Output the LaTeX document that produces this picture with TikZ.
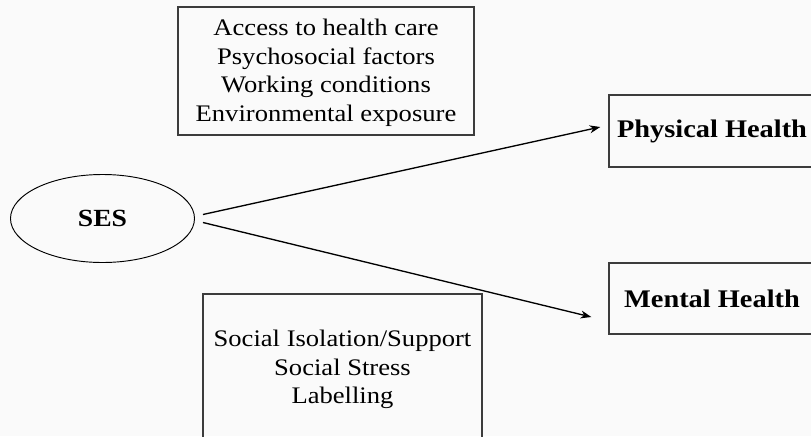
\documentclass[tikz,border=0pt]{standalone}
\usepackage{fontspec}
\setmainfont{Liberation Serif}[FakeStretch=1.12]
\usetikzlibrary{shapes.geometric,arrows.meta}
\definecolor{bgc}{RGB}{250,250,250}
\definecolor{boxline}{RGB}{60,60,60}
\tikzset{
  factorbox/.style={draw=boxline,line width=1.1pt,rectangle,inner sep=0pt},
  factortext/.style={inner sep=0pt,align=center,font=\fontsize{17.8}{21.4}\selectfont},
  outbox/.style={draw=boxline,line width=1.1pt,rectangle,inner sep=0pt,align=center,
    font=\fontsize{19}{22}\selectfont\bfseries},
  sesnode/.style={draw=black,line width=0.7pt,ellipse,inner sep=0pt,
    font=\fontsize{18.5}{22}\selectfont\bfseries},
  arr/.style={draw=black,line width=1pt,-{Stealth[length=8pt,width=6pt]}}
}
\begin{document}
\begin{tikzpicture}[x=0.75pt,y=-0.75pt]
\useasboundingbox (0,0) rectangle (811,436);
\clip (0,0) rectangle (811,436);
\fill[bgc] (0,0) rectangle (811,436);
\node[sesnode,minimum width=138pt,minimum height=66pt] (ses) at (102.5,218.5) {SES};
\node[factorbox,minimum width=222pt,minimum height=96pt] (top) at (326,71) {};
\node[factortext] (toptext) at ([shift={(0,2)}]top.center)
  {Access to health care\\Psychosocial factors\\Working conditions\\Environmental exposure};
\node[factorbox,minimum width=209pt,minimum height=109.5pt] (bot) at (342.5,367) {};
\node[factortext] (bottext) at ([shift={(0,2.5)}]bot.center)
  {Social Isolation/Support\\Social Stress\\Labelling};
\node[outbox,minimum width=154.5pt,minimum height=54pt] (phys) at (712,131) {Physical Health};
\node[outbox,minimum width=154.5pt,minimum height=53.25pt] (ment) at (712,298.5) {Mental Health};
\draw[arr] ([shift={(8,-4)}]ses.east) -- ([shift={(-8,-4)}]phys.west);
\draw[arr] ([shift={(8,4)}]ses.east) -- ([shift={(-17,18.5)}]ment.west);
\end{tikzpicture}
\end{document}
